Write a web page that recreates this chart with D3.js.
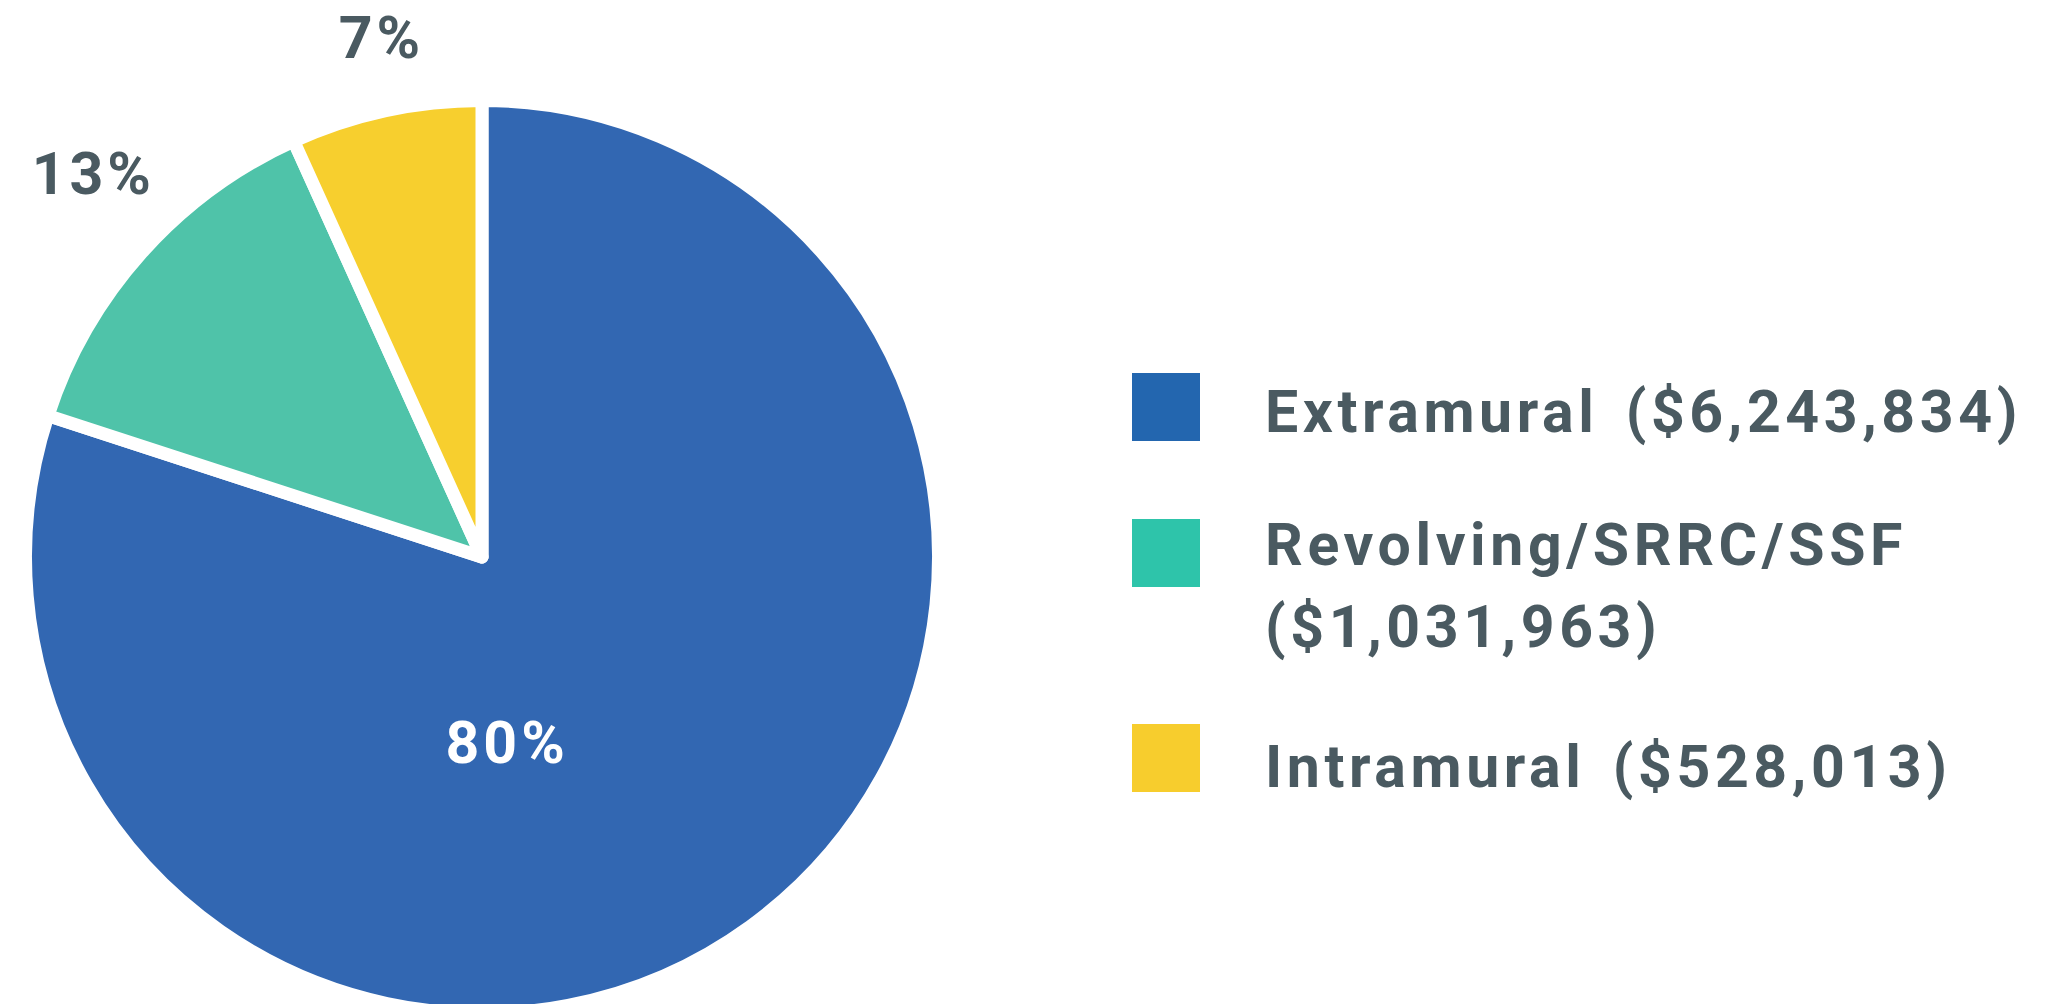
<!DOCTYPE html>
<html>
<head>
<meta charset="utf-8">
<script src="https://cdn.jsdelivr.net/npm/d3@7"></script>
<style>
  html, body { margin: 0; padding: 0; background: #ffffff; }
  svg { display: block; }
  text { font-family: Roboto, "Liberation Sans", sans-serif; font-weight: 700; }
</style>
</head>
<body>
<script>
// ---- data ----
const categories = ["Extramural", "Revolving/SRRC/SSF", "Intramural"];
const amounts = [6243834, 1031963, 528013];
const amountLabels = ["($6,243,834)", "($1,031,963)", "($528,013)"];
const percentLabels = ["80%", "13%", "7%"];
const sliceColors = ["#3267b2", "#4fc3a9", "#f7cf2e"];
const legendColors = ["#2366af", "#2ec4aa", "#f7cd2d"];

// ---- layout ----
const W = 2064, H = 1004;
const cx = 482, cy = 557;
const strokeW = 13;
const R = 450 + strokeW / 2;
const textColor = "#4a5a61";

const svg = d3.select("body").append("svg")
  .attr("width", W).attr("height", H);

const pie = d3.pie().sort(null).value(d => d).startAngle(0).endAngle(2 * Math.PI);
const arcs = pie(amounts);
const arc = d3.arc().innerRadius(0).outerRadius(R);

const g = svg.append("g").attr("transform", `translate(${cx},${cy})`);

g.selectAll("path.slice")
  .data(arcs)
  .join("path")
  .attr("class", "slice")
  .attr("d", arc)
  .attr("fill", (d, i) => sliceColors[i])
  .attr("stroke", "#ffffff")
  .attr("stroke-width", strokeW)
  .attr("stroke-linejoin", "round");

// percentage labels
const outerLabelArc = d3.arc().innerRadius(R * 1.19).outerRadius(R * 1.19);
const fontSize = 59;
arcs.forEach((d, i) => {
  let x, y;
  if (i === 0) {
    // inside label for the large slice
    x = R * 0.055;
    y = R * 0.405;
  } else {
    [x, y] = outerLabelArc.centroid(d);
    if (i === 1) { x += 16; y -= 22; }
    if (i === 2) { x += 14; y += 11; }
  }
  g.append("text")
    .attr("x", x)
    .attr("y", y)
    .attr("dy", "0.36em")
    .attr("text-anchor", "middle")
    .attr("font-size", fontSize)
    .attr("letter-spacing", 4)
    .attr("fill", i === 0 ? "#ffffff" : textColor)
    .text(percentLabels[i]);
});

// legend
const legendX = 1132, swatch = 68, textX = 1265;
const squareTops = [373, 519, 724];
const baselines = [[432], [565, 647], [787]];
const legend = svg.append("g");

categories.forEach((c, i) => {
  legend.append("rect")
    .attr("x", legendX).attr("y", squareTops[i])
    .attr("width", swatch).attr("height", swatch)
    .attr("fill", legendColors[i]);

  const t = legend.append("text")
    .attr("font-size", 59)
    .attr("letter-spacing", 4.6)
    .attr("fill", textColor);

  if (baselines[i].length === 1) {
    t.attr("x", textX).attr("y", baselines[i][0]);
    t.append("tspan").text(c + " ");
    t.append("tspan").attr("dx", 8).text(amountLabels[i]);
  } else {
    t.append("tspan").attr("x", textX).attr("y", baselines[i][0]).text(c);
    t.append("tspan").attr("x", textX).attr("y", baselines[i][1]).text(amountLabels[i]);
  }
});
</script>
</body>
</html>
